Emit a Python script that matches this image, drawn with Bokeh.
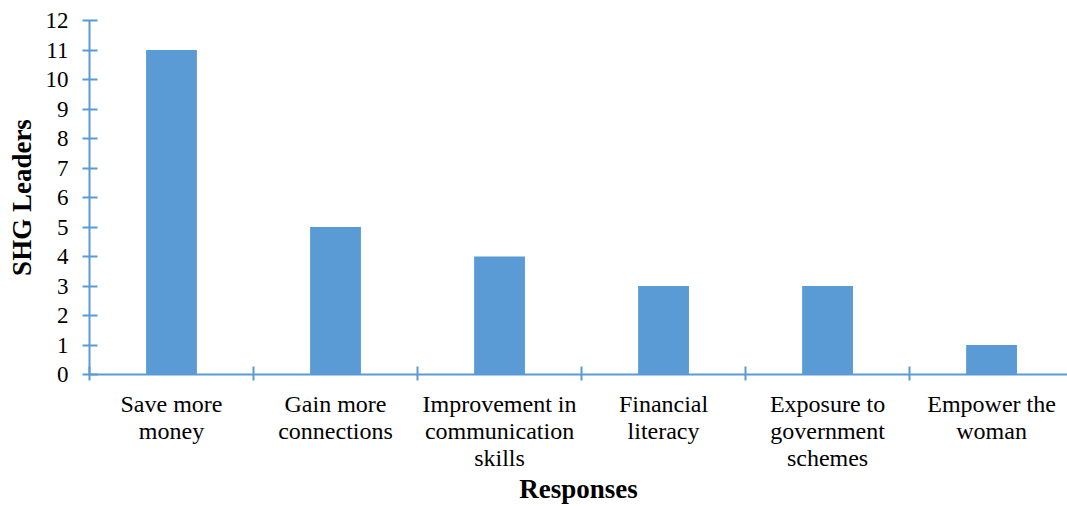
from bokeh.plotting import figure
from bokeh.models import Range1d, FixedTicker, LinearAxis
from bokeh.embed import file_html
from bokeh.resources import INLINE

categories = ["Save more\nmoney", "Gain more\nconnections", "Improvement in\ncommunication\nskills",
              "Financial\nliteracy", "Exposure to\ngovernment\nschemes", "Empower the\nwoman"]
values = [11, 5, 4, 3, 3, 1]
y_ticks = list(range(0, 13))

BLUE = "#5B9BD5"
FONT = "Liberation Serif"
FS = "24px"
YFS = "23px"
TITLE_FS = "27px"

xs = [i + 0.5 for i in range(len(categories))]
lines = [c.split("\n") for c in categories]

# the original picture is cropped slightly on the right side
p = figure(width=1067, height=506, output_backend="svg", toolbar_location=None,
           x_range=Range1d(0, len(categories) - 0.037), y_range=Range1d(0, 12),
           min_border_left=89, min_border_right=0, min_border_top=20, min_border_bottom=100,
           x_axis_type=None, y_axis_type=None)
p.outline_line_color = None
p.background_fill_color = "white"

p.vbar(x=xs, top=values, width=0.31, color=BLUE, line_color=None)


def text_axis(row, standoff, with_line=False):
    ticks = [x for x, l in zip(xs, lines) if len(l) > row]
    minor = list(range(0, len(categories) + 1)) if with_line else []
    ax = LinearAxis(ticker=FixedTicker(ticks=ticks, minor_ticks=minor))
    ax.major_label_overrides = {x: l[row] for x, l in zip(xs, lines) if len(l) > row}
    ax.major_tick_line_color = None
    ax.major_tick_in = 0
    ax.major_tick_out = 0
    ax.major_label_standoff = standoff
    ax.major_label_text_font = FONT
    ax.major_label_text_font_size = FS
    ax.major_label_text_color = "#000000"
    if with_line:
        ax.axis_line_color = BLUE
        ax.axis_line_width = 2
        ax.minor_tick_line_color = BLUE
        ax.minor_tick_line_width = 2
        ax.minor_tick_in = 8
        ax.minor_tick_out = 6
    else:
        ax.axis_line_color = None
        ax.minor_tick_line_color = None
    return ax


xa1 = text_axis(0, 10, with_line=True)
xa2 = text_axis(1, -2)
xa3 = text_axis(2, -2)
xa3.axis_label = "Responses"
xa3.axis_label_text_font = FONT
xa3.axis_label_text_font_size = TITLE_FS
xa3.axis_label_text_font_style = "bold"
xa3.axis_label_text_color = "#000000"
xa3.axis_label_standoff = 0
for ax in (xa1, xa2, xa3):
    p.add_layout(ax, "below")

# y axis
ya = LinearAxis(ticker=FixedTicker(ticks=y_ticks, minor_ticks=[]))
ya.axis_line_color = BLUE
ya.axis_line_width = 2
ya.major_tick_line_color = BLUE
ya.major_tick_line_width = 2
ya.major_tick_in = 8
ya.major_tick_out = 7
ya.major_label_standoff = 14
ya.major_label_text_font = FONT
ya.major_label_text_font_size = YFS
ya.major_label_text_color = "#000000"
ya.axis_label = "SHG Leaders"
ya.axis_label_text_font = FONT
ya.axis_label_text_font_size = TITLE_FS
ya.axis_label_text_font_style = "bold"
ya.axis_label_text_color = "#000000"
ya.axis_label_standoff = 6
p.add_layout(ya, "left")

p.xgrid.visible = False
p.ygrid.ticker = FixedTicker(ticks=y_ticks)
p.ygrid.grid_line_color = "#D9D9D9"
p.ygrid.grid_line_width = 2

open("out.html", "w").write(file_html(p, INLINE))
